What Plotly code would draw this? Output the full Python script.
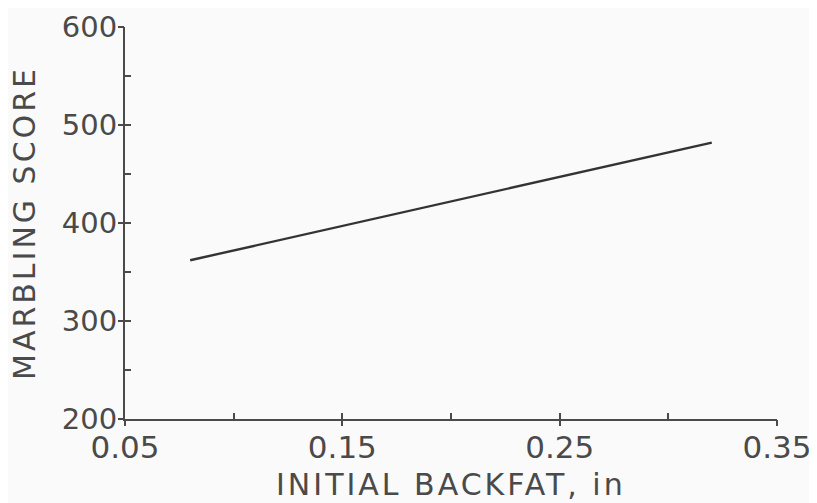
import plotly.graph_objects as go

# data
backfat = [0.08, 0.32]
marbling = [362, 482]

x_major = [0.05, 0.15, 0.25, 0.35]
x_ticks = [0.05, 0.10, 0.15, 0.20, 0.25, 0.30, 0.35]
x_labels = ["0.05", "", "0.15", "", "0.25", "", "0.35"]
y_major = [200, 300, 400, 500, 600]
y_ticks = [200, 250, 300, 350, 400, 450, 500, 550, 600]
y_labels = ["200", "", "300", "", "400", "", "500", "", "600"]

x_title = "INITIAL BACKFAT, in"
y_title = "MARBLING SCORE"

ink = "#4a4a4a"
font = "DejaVu Sans"
xr = [0.05, 0.35]
yr = [200, 600]
bg = "#fafafa"

fig = go.Figure()
fig.add_trace(go.Scatter(x=backfat, y=marbling, mode="lines",
                         line=dict(color="#333333", width=2.4),
                         showlegend=False, hoverinfo="skip"))
# invisible trace to anchor the overlay tick axes
fig.add_trace(go.Scatter(x=xr, y=yr, xaxis="x2", yaxis="y2", mode="lines",
                         line=dict(width=0), opacity=0, showlegend=False,
                         hoverinfo="skip"))

fig.update_layout(
    width=817, height=503,
    margin=dict(l=117, r=48, t=19, b=92, autoexpand=False),
    paper_bgcolor=bg, plot_bgcolor=bg,
    font=dict(family=font, color=ink),
    xaxis=dict(range=xr, tickmode="array", tickvals=x_ticks, ticktext=x_labels,
               ticks="inside", ticklen=6, tickwidth=2, tickcolor=ink,
               showline=True, linecolor=ink, linewidth=2, automargin=False,
               showgrid=False, zeroline=False,
               tickfont=dict(size=31, family=font, color=ink)),
    yaxis=dict(range=yr, tickmode="array", tickvals=y_ticks, ticktext=y_labels,
               ticks="inside", ticklen=6, tickwidth=2, tickcolor=ink,
               showline=True, linecolor=ink, linewidth=2, automargin=False,
               showgrid=False, zeroline=False,
               tickfont=dict(size=29, family=font, color=ink)),
    xaxis2=dict(range=xr, overlaying="x", anchor="y", side="bottom",
                tickmode="array", tickvals=x_major, showticklabels=False,
                ticks="outside", ticklen=6, tickwidth=2, tickcolor=ink,
                automargin=False,
                showline=False, showgrid=False, zeroline=False),
    yaxis2=dict(range=yr, overlaying="y", anchor="x", side="left",
                tickmode="array", tickvals=y_major, showticklabels=False,
                ticks="outside", ticklen=6, tickwidth=2, tickcolor=ink,
                automargin=False,
                showline=False, showgrid=False, zeroline=False),
)

fig.add_annotation(text='<span style="letter-spacing:3px">' + x_title + '</span>',
                   xref="paper", yref="paper", x=0.5, y=0, yshift=-65,
                   xanchor="center", yanchor="middle", showarrow=False,
                   font=dict(size=30, family=font, color=ink))
fig.add_annotation(text='<span style="letter-spacing:3px">' + y_title + '</span>',
                   xref="paper", yref="paper", x=0, y=0.5, xshift=-101,
                   xanchor="center", yanchor="middle", showarrow=False,
                   textangle=-90,
                   font=dict(size=30, family=font, color=ink))

fig.write_html("out.html")
